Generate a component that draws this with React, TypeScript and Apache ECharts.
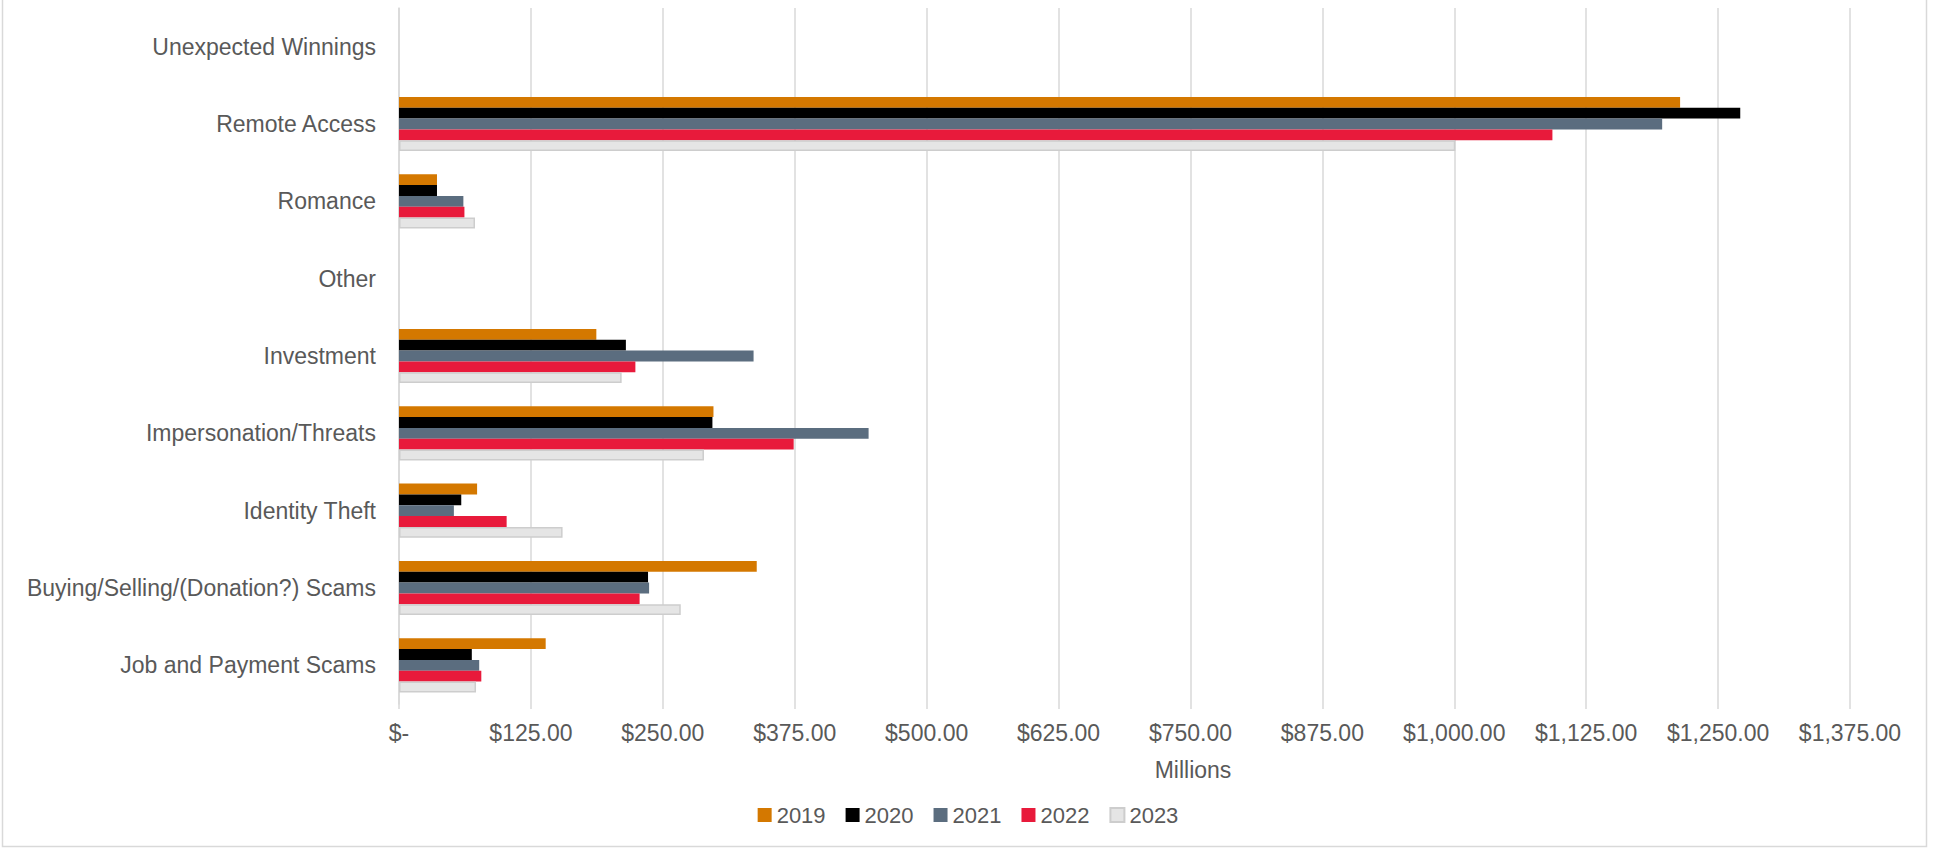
import React, { useEffect, useRef } from 'react';
import * as echarts from 'echarts';

// Categories, top to bottom as shown in the chart
const categories = [
  'Unexpected Winnings',
  'Remote Access',
  'Romance',
  'Other',
  'Investment',
  'Impersonation/Threats',
  'Identity Theft',
  'Buying/Selling/(Donation?) Scams',
  'Job and Payment Scams',
];

const years = ['2019', '2020', '2021', '2022', '2023'];

// Losses in millions of dollars
const v2019 = [null, 1214, 36, null, 187, 298, 74, 339, 139];
const v2020 = [null, 1271, 36, null, 215, 297, 59, 236, 69];
const v2021 = [null, 1197, 61, null, 336, 445, 52, 237, 76];
const v2022 = [null, 1093, 62, null, 224, 374, 102, 228, 78];
const v2023 = [null, 1001, 72, null, 211, 289, 155, 267, 73];

const seriesValues = [v2019, v2020, v2021, v2022, v2023];
const colors = ['#D47800', '#000000', '#5B6D7F', '#E81A3B', '#E5E5E5'];

const axisMin = 0;
const axisMax = 1375;
const axisInterval = 125;

const FONT = '"Liberation Sans", Arial, sans-serif';
const TEXT = '#595959';
const GRID = '#D9D9D9';

function fmtMoney(v: number): string {
  if (v === 0) return '$-';
  return '$' + v.toLocaleString('en-US', { minimumFractionDigits: 2, maximumFractionDigits: 2 });
}

export default function App() {
  const ref = useRef<HTMLDivElement>(null);

  useEffect(() => {
    if (!ref.current) return;
    const chart = echarts.init(ref.current, null, { renderer: 'svg' });

    const series = years.map((y, i) => ({
      name: y,
      type: 'bar',
      data: seriesValues[i],
      barGap: '0%',
      barCategoryGap: '30%',
      itemStyle:
        i === 4
          ? { color: colors[i], borderColor: '#CDCDCD', borderWidth: 1.5 }
          : { color: colors[i] },
    }));

    chart.setOption({
      animation: false,
      backgroundColor: '#FFFFFF',
      grid: { left: 399, right: 86, top: 8, bottom: 144, containLabel: false },
      xAxis: {
        type: 'value',
        min: axisMin,
        max: axisMax,
        interval: axisInterval,
        axisLine: { show: false },
        axisTick: { show: true, length: 5, lineStyle: { color: GRID, width: 1.5 } },
        splitLine: { show: true, lineStyle: { color: GRID, width: 1.5 } },
        axisLabel: {
          color: TEXT,
          fontSize: 23,
          fontFamily: FONT,
          margin: 17,
          formatter: (v: number) => fmtMoney(v),
        },
      },
      yAxis: {
        type: 'category',
        data: categories,
        inverse: true,
        axisLine: { show: true, lineStyle: { color: GRID, width: 1.5 } },
        axisTick: { show: false },
        splitLine: { show: false },
        axisLabel: {
          color: TEXT,
          fontSize: 23,
          fontFamily: FONT,
          margin: 23,
        },
      },
      legend: {
        data: years,
        left: 'center',
        top: 799,
        icon: 'rect',
        itemWidth: 14,
        itemHeight: 14,
        itemGap: 20,
        textStyle: { color: TEXT, fontSize: 22, fontFamily: FONT, lineHeight: 22 },
      },
      graphic: [
        {
          type: 'rect',
          shape: { x: 2.5, y: -10, width: 1924, height: 856.5 },
          style: { fill: 'none', stroke: GRID, lineWidth: 1.5 },
          silent: true,
        },
        {
          type: 'text',
          x: 1193,
          y: 770,
          style: {
            text: 'Millions',
            fill: TEXT,
            fontSize: 23,
            fontFamily: FONT,
            align: 'center',
            verticalAlign: 'middle',
          },
        },
      ],
      series,
    });

    return () => chart.dispose();
  }, []);

  return (
    <div
      ref={ref}
      style={{ position: 'fixed', left: 0, top: 0, width: 1936, height: 848, background: '#fff' }}
    />
  );
}
